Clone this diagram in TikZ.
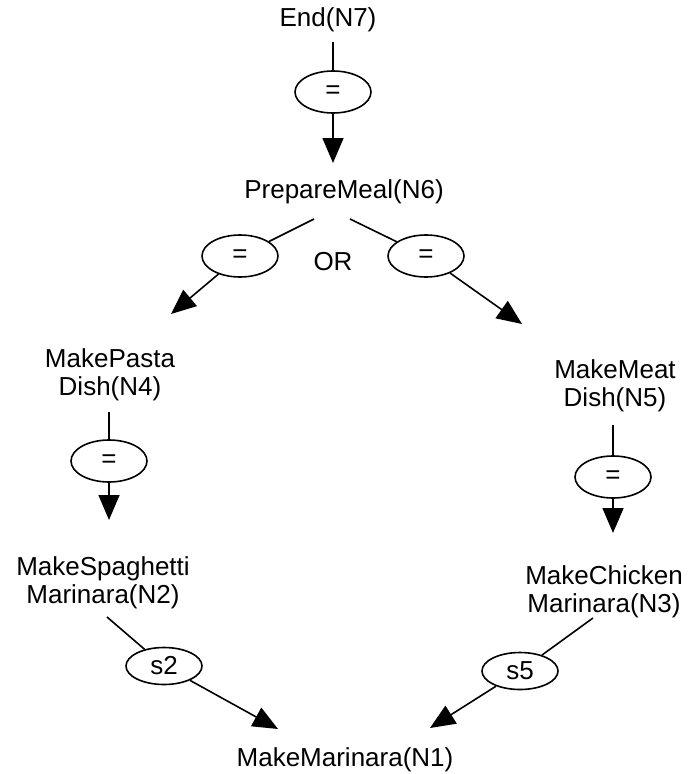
\documentclass[tikz,border=0pt]{standalone}
\usepackage{fontspec}
\setmainfont{Liberation Sans}
\usetikzlibrary{arrows.meta,shapes.geometric}
\begin{document}
\begin{tikzpicture}[x=1bp,y=-1bp,
  line width=1.6bp,
  every node/.style={font=\fontsize{26bp}{28bp}\selectfont, inner sep=0pt},
  txt/.style={anchor=base, align=center},
  cond/.style={draw, ellipse, minimum width=76bp, minimum height=42bp},
  seq/.style={draw, ellipse, minimum width=76bp, minimum height=37bp},
  flow/.style={-{Triangle[length=25bp,width=21bp]}}]
\useasboundingbox (0,0) rectangle (688,774);

% task nodes (two-line labels are placed by the baseline of their last line)
\node[txt] (n7) at (328,27) {End(N7)};
\node[txt] (n6) at (344,198) {PrepareMeal(N6)};
\node[txt] (or) at (333,270) {OR};
\node[txt] (n4) at (110,395) {MakePasta\\Dish(N4)};
\node[txt] (n5) at (615,406) {MakeMeat\\Dish(N5)};
\node[txt] (n2) at (103,603) {MakeSpaghetti\\Marinara(N2)};
\node[txt] (n3) at (604,612) {MakeChicken\\Marinara(N3)};
\node[txt] (n1) at (345,766) {MakeMarinara(N1)};

% edge condition labels
\node[cond] (e7) at (333,92) {=};
\node[cond] (eL) at (240,256) {=};
\node[cond] (eR) at (426,256) {=};
\node[cond] (e4) at (109,461) {=};
\node[cond] (e5) at (613,477) {=};
\node[seq] (s2) at (164,666) {s2};
\node[seq] (s5) at (520,671) {s5};

% edge end points
\coordinate (t7) at (333,42);   \coordinate (h6) at (333,163);
\coordinate (t6l) at (314,219); \coordinate (h4) at (171,314);
\coordinate (t6r) at (350,219); \coordinate (h5) at (522,324);
\coordinate (t4) at (109,412);  \coordinate (h2) at (109,520);
\coordinate (t5) at (613,425);  \coordinate (h3) at (613,533);
\coordinate (t2) at (107,617);  \coordinate (h1l) at (278,729);
\coordinate (t3) at (593,618);  \coordinate (h1r) at (430,728);

% connectors
\draw (t7) -- (e7);   \draw[flow] (e7) -- (h6);
\draw (t6l) -- (eL);  \draw[flow] (eL) -- (h4);
\draw (t6r) -- (eR);  \draw[flow] (eR) -- (h5);
\draw (t4) -- (e4);   \draw[flow] (e4) -- (h2);
\draw (t5) -- (e5);   \draw[flow] (e5) -- (h3);
\draw (t2) -- (s2);   \draw[flow] (s2) -- (h1l);
\draw (t3) -- (s5);   \draw[flow] (s5) -- (h1r);
\end{tikzpicture}
\end{document}
